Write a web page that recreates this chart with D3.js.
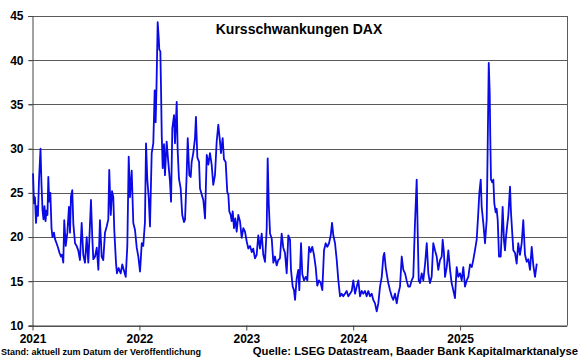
<!DOCTYPE html>
<html>
<head>
<meta charset="utf-8">
<script src="https://cdn.jsdelivr.net/npm/d3@7"></script>
<style>
  html, body { margin: 0; padding: 0; background: #fff; }
  svg { display: block; }
  text { font-family: Arial, "Liberation Sans", sans-serif; fill: #000; }
</style>
</head>
<body>
<svg id="chart" width="580" height="358"></svg>
<script>
const title = "Kursschwankungen DAX";
const footLeft = "Stand: aktuell zum Datum der Veröffentlichung";
const footRight = "Quelle: LSEG Datastream, Baader Bank Kapitalmarktanalyse";
const yTicks = [10, 15, 20, 25, 30, 35, 40, 45];
const xTicks = [2021, 2022, 2023, 2024, 2025];
const xTickLabels = ["2021", "2022", "2023", "2024", "2025"];

// time as decimal years
const time = [
2021.005,2021.014,2021.023,2021.033,2021.042,2021.051,2021.061,2021.075,2021.084,2021.094,
2021.103,2021.112,2021.122,2021.131,2021.140,2021.148,2021.157,2021.167,2021.178,2021.187,
2021.201,2021.210,2021.225,2021.239,2021.253,2021.267,2021.276,2021.288,2021.297,2021.311,
2021.326,2021.341,2021.351,2021.360,2021.372,2021.382,2021.398,2021.413,2021.428,2021.444,
2021.460,2021.475,2021.491,2021.507,2021.522,2021.531,2021.547,2021.559,2021.569,2021.585,
2021.601,2021.616,2021.631,2021.647,2021.662,2021.678,2021.694,2021.709,2021.718,2021.732,
2021.744,2021.756,2021.765,2021.781,2021.790,2021.806,2021.825,2021.840,2021.856,2021.872,
2021.887,2021.900,2021.912,2021.928,2021.943,2021.959,2021.975,2021.990,2022.006,2022.022,
2022.036,2022.052,2022.062,2022.074,2022.087,2022.099,2022.115,2022.130,2022.143,2022.152,
2022.160,2022.171,2022.181,2022.186,2022.196,2022.202,2022.209,2022.218,2022.230,2022.239,
2022.255,2022.270,2022.286,2022.296,2022.308,2022.324,2022.333,2022.349,2022.358,2022.370,
2022.386,2022.401,2022.417,2022.427,2022.442,2022.452,2022.467,2022.480,2022.489,2022.504,
2022.520,2022.529,2022.542,2022.558,2022.567,2022.583,2022.598,2022.614,2022.630,2022.645,
2022.660,2022.676,2022.691,2022.707,2022.723,2022.738,2022.754,2022.763,2022.779,2022.791,
2022.807,2022.822,2022.832,2022.841,2022.854,2022.863,2022.873,2022.885,2022.897,2022.910,
2022.925,2022.941,2022.957,2022.972,2022.988,2023.004,2023.019,2023.035,2023.051,2023.065,
2023.081,2023.097,2023.112,2023.128,2023.144,2023.159,2023.175,2023.191,2023.200,2023.210,
2023.222,2023.238,2023.253,2023.268,2023.284,2023.299,2023.315,2023.331,2023.346,2023.362,
2023.378,2023.393,2023.409,2023.418,2023.434,2023.446,2023.456,2023.471,2023.486,2023.496,
2023.512,2023.524,2023.540,2023.556,2023.571,2023.587,2023.602,2023.617,2023.633,2023.649,
2023.664,2023.680,2023.696,2023.711,2023.727,2023.743,2023.758,2023.774,2023.790,2023.802,
2023.814,2023.830,2023.846,2023.861,2023.877,2023.892,2023.907,2023.923,2023.939,2023.954,
2023.970,2023.986,2024.001,2024.017,2024.033,2024.048,2024.064,2024.080,2024.094,2024.110,
2024.126,2024.141,2024.157,2024.173,2024.188,2024.204,2024.220,2024.235,2024.251,2024.267,
2024.282,2024.291,2024.304,2024.313,2024.328,2024.344,2024.360,2024.375,2024.391,2024.407,
2024.422,2024.438,2024.454,2024.469,2024.485,2024.500,2024.515,2024.531,2024.547,2024.562,
2024.578,2024.594,2024.603,2024.613,2024.625,2024.641,2024.656,2024.672,2024.688,2024.703,
2024.718,2024.734,2024.749,2024.765,2024.781,2024.796,2024.812,2024.828,2024.837,2024.849,
2024.859,2024.875,2024.890,2024.906,2024.921,2024.936,2024.952,2024.968,2024.983,2024.999,
2025.015,2025.030,2025.046,2025.062,2025.077,2025.093,2025.109,2025.123,2025.139,2025.155,
2025.170,2025.180,2025.193,2025.202,2025.217,2025.233,2025.249,2025.258,2025.268,2025.277,
2025.282,2025.289,2025.301,2025.311,2025.320,2025.333,2025.342,2025.352,2025.364,2025.380,
2025.389,2025.398,2025.411,2025.420,2025.429,2025.442,2025.451,2025.467,2025.476,2025.488,
2025.498,2025.514,2025.529,2025.544,2025.560,2025.576,2025.591,2025.607,2025.623,2025.638,
2025.654,2025.670,2025.685,2025.701,2025.717
];

// VDAX level
const vdax = [
27.2,23.8,24.5,21.6,23.5,22.4,26.5,30.0,26.0,23.0,
22.0,23.5,21.8,23.0,22.5,26.8,24.0,25.0,21.0,20.0,
20.5,19.8,19.3,18.8,18.2,17.8,18.0,17.1,21.9,19.0,
20.5,23.4,20.5,24.6,25.3,21.5,19.3,19.0,18.5,17.4,
21.6,18.0,17.1,20.0,17.1,19.5,24.2,20.0,17.5,17.8,
18.8,16.3,21.9,17.8,17.4,20.5,21.2,22.0,27.6,22.5,
25.2,24.5,20.8,17.1,15.9,16.5,15.9,16.9,16.2,15.5,
19.0,29.1,24.5,27.5,21.6,20.8,18.8,17.8,16.1,19.3,
19.0,21.7,30.6,26.5,24.5,21.2,29.5,30.6,36.6,33.0,
37.0,44.3,42.5,41.2,41.0,37.0,31.5,27.8,30.5,27.0,
30.8,28.5,26.3,24.0,32.3,33.8,30.6,35.3,29.8,26.6,
25.5,22.5,21.7,22.0,27.0,31.2,27.0,26.8,28.5,29.5,
31.2,33.6,29.0,28.5,25.5,24.8,24.2,22.1,29.3,28.2,
29.5,28.2,25.9,27.0,30.8,32.7,30.8,29.5,31.2,28.8,
28.5,25.1,24.8,22.9,22.5,21.8,22.9,21.0,22.1,20.6,
22.5,21.8,19.9,21.0,20.6,19.5,18.7,19.0,18.3,18.7,
17.6,18.0,20.2,18.7,20.4,18.0,17.2,21.0,28.9,23.8,
20.4,19.8,17.1,17.8,16.8,17.4,17.6,20.4,18.8,18.2,
15.9,20.2,19.7,16.3,14.4,14.0,12.9,15.3,16.3,14.0,
19.3,15.8,15.1,15.5,15.1,18.9,18.3,18.9,18.0,16.6,
14.5,15.1,14.8,14.0,18.5,19.3,18.9,19.3,20.2,21.6,
20.2,19.3,17.4,15.1,13.3,13.6,13.3,13.6,13.9,13.3,
13.6,13.9,15.1,13.6,14.4,15.1,13.3,13.9,13.6,13.9,
13.3,13.9,13.3,13.6,12.9,12.5,11.6,12.5,14.4,15.5,
17.8,18.2,16.6,15.9,14.8,14.0,13.3,12.9,13.6,12.5,
13.6,14.4,17.8,16.3,15.9,15.1,14.4,14.4,15.1,15.5,
21.6,26.5,20.8,15.1,14.8,15.9,15.1,16.9,19.3,15.9,
14.8,15.5,19.3,18.5,17.8,16.3,17.4,17.8,19.7,18.2,
15.5,16.6,18.5,16.3,14.8,14.0,13.1,16.6,15.5,15.9,
15.1,16.6,14.4,15.1,15.5,16.9,16.6,17.4,18.5,19.7,
22.7,25.0,26.5,23.4,21.6,19.3,22.0,30.2,39.7,36.3,
31.5,26.5,26.2,26.5,23.8,22.8,23.2,21.9,17.8,17.8,
20.5,23.4,19.5,18.5,20.0,21.5,22.4,25.7,22.8,20.4,
18.5,18.2,17.0,19.3,18.0,19.3,21.9,18.0,17.2,17.5,
16.3,18.9,16.8,15.5,17.0
];

const svg = d3.select("#chart");
const L = 32.5, R = 567, T = 16, B = 325.5;

const x = d3.scaleLinear().domain([2021, 2026]).range([L, R]);
const y = d3.scaleLinear().domain([10, 45]).range([B, T]);

// gridlines
svg.append("g")
  .selectAll("line")
  .data(yTicks)
  .join("line")
  .attr("x1", L - 4).attr("x2", R)
  .attr("y1", d => Math.round(y(d)) + 0.5).attr("y2", d => Math.round(y(d)) + 0.5)
  .attr("stroke", "#5a5a5a").attr("stroke-width", 1);

// right border
svg.append("line")
  .attr("x1", R + 0.5).attr("x2", R + 0.5).attr("y1", y(45)).attr("y2", y(10))
  .attr("stroke", "#5a5a5a");

// y axis
const yAxis = d3.axisLeft(y).tickValues(yTicks).tickSize(4).tickPadding(5);
const gy = svg.append("g").attr("transform", `translate(${L},0)`).call(yAxis);
gy.select(".domain").attr("stroke", "#444");
gy.selectAll(".tick line").attr("stroke", "#444");
gy.selectAll("text").attr("font-size", 12).attr("font-weight", "bold")
  .attr("font-family", "Arial, 'Liberation Sans', sans-serif").attr("fill", "#000");

// x axis
const xAxis = d3.axisBottom(x).tickValues(xTicks).tickFormat((d, i) => xTickLabels[i])
  .tickSize(5).tickPadding(4).tickSizeOuter(0);
const gx = svg.append("g").attr("transform", `translate(0,${B})`).call(xAxis);
gx.select(".domain").attr("stroke", "#444");
gx.selectAll(".tick line").attr("stroke", "#444");
gx.selectAll("text").attr("font-size", 12).attr("font-weight", "bold")
  .attr("font-family", "Arial, 'Liberation Sans', sans-serif").attr("fill", "#000");

// line
const pts = time.map((t, i) => [t, vdax[i]]);
svg.append("path")
  .datum(pts)
  .attr("fill", "none")
  .attr("stroke", "#0a0ae6")
  .attr("stroke-width", 1.8)
  .attr("stroke-linejoin", "round")
  .attr("d", d3.line().x(d => x(d[0])).y(d => y(d[1])));

// title
svg.append("text")
  .attr("x", 299).attr("y", 34)
  .attr("text-anchor", "middle")
  .attr("font-size", 14).attr("font-weight", "bold")
  .text(title);

// footers
svg.append("text")
  .attr("x", 1).attr("y", 355)
  .attr("font-size", 9).attr("font-weight", "bold")
  .text(footLeft);

svg.append("text")
  .attr("x", 578).attr("y", 355)
  .attr("text-anchor", "end")
  .attr("font-size", 11.3).attr("font-weight", "bold")
  .text(footRight);
</script>
</body>
</html>
